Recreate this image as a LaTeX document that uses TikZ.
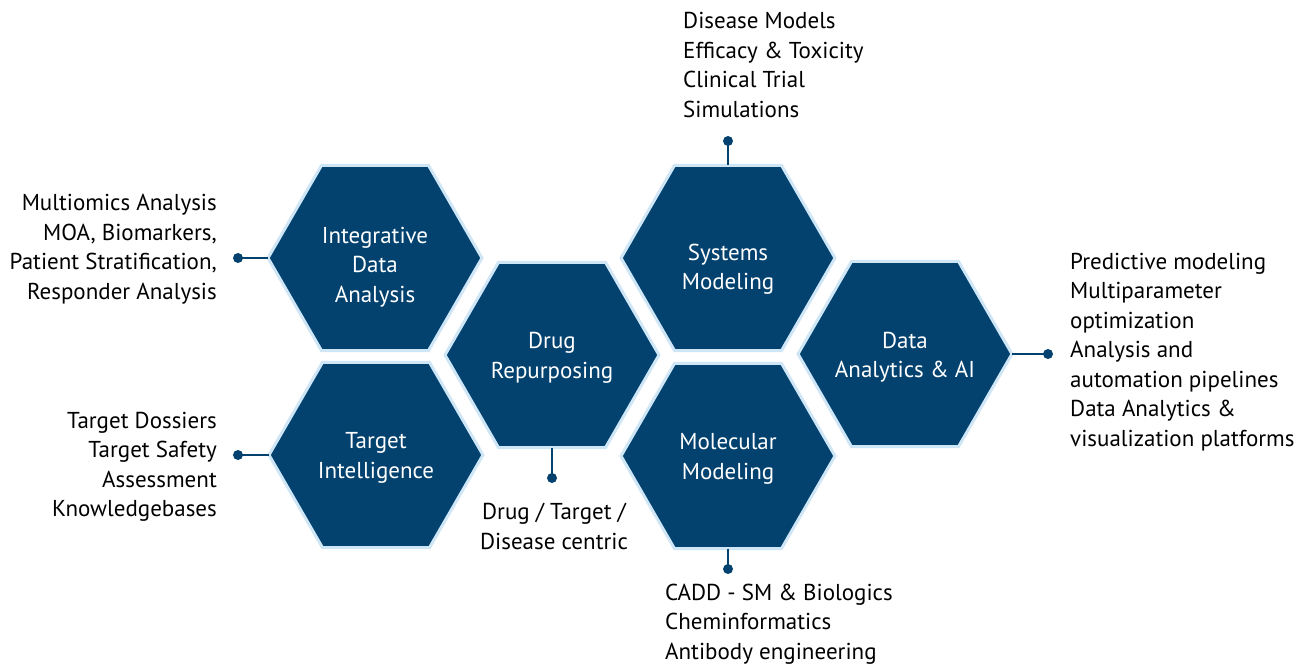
\documentclass[tikz,border=0pt]{standalone}
\usepackage{fontspec}
\setmainfont{PT Sans}
\usetikzlibrary{shapes.geometric,positioning}

\definecolor{hexblue}{HTML}{03426F}
\definecolor{hexrim}{HTML}{CFE6F7}

\tikzset{
  hexcell/.style={regular polygon, regular polygon sides=6,
    minimum size=214pt, inner sep=0pt, outer sep=0pt,
    fill=hexblue, draw=hexrim, line width=3pt},
  hexlabel/.style={inner sep=0pt, text=white, align=center,
    font=\fontsize{23}{29.5}\selectfont},
  info/.style={inner sep=0pt, font=\fontsize{23}{29.5}\selectfont},
  link/.style={hexblue, line width=1.6pt},
  pin/.style={fill=hexblue}
}

\begin{document}
\begin{tikzpicture}[x=1pt,y=1pt]
        \useasboundingbox (0,0) rectangle (1297,665);
        % honeycomb
        \node[hexcell] (ida) at (375,407) {};
        \node[hexcell] (ti) at (376,210) {};
        \node[hexcell] (dr) at (552,310) {};
        \node[hexcell] (sm) at (728,407) {};
        \node[hexcell] (mm) at (728,209) {};
        \node[hexcell] (da) at (905,311) {};
        \node[hexlabel] (idalabel) at ([yshift=-9pt]ida.center) {Integrative\\Data\\Analysis};
        \node[hexlabel] (tilabel) at ([yshift=-3pt]ti.center) {Target\\Intelligence};
        \node[hexlabel] (drlabel) at ([yshift=-3pt]dr.center) {Drug\\Repurposing};
        \node[hexlabel] (smlabel) at ([yshift=-11pt]sm.center) {Systems\\Modeling};
        \node[hexlabel] (mmlabel) at ([yshift=-3pt]mm.center) {Molecular\\Modeling};
        \node[hexlabel] (dalabel) at ([yshift=-3pt]da.center) {Data\\Analytics \& AI};
        % pins
        \coordinate (idadot) at (238,407);
        \coordinate (tidot) at (238,210);
        \coordinate (drdot) at (552,187);
        \coordinate (smdot) at (728,524);
        \coordinate (mmdot) at (728,96);
        \coordinate (dadot) at (1048,311);
        \draw[link] (ida.west) -- (idadot);
        \draw[link] (ti.west) -- (tidot);
        \draw[link] (dr.south) -- (drdot);
        \draw[link] (sm.north) -- (smdot);
        \draw[link] (mm.south) -- (mmdot);
        \draw[link] (da.east) -- (dadot);
        \foreach \p in {idadot,tidot,drdot,smdot,mmdot,dadot}
            \fill[pin] (\p) circle (5pt);
        % texts
        \node[info, align=right, anchor=east] (idatxt) at (217,416)
            {Multiomics Analysis\\MOA, Biomarkers,\\Patient Stratification,\\Responder Analysis};
        \node[info, align=right, anchor=east] (titxt) at (217,198)
            {Target Dossiers\\Target Safety\\Assessment\\Knowledgebases};
        \node[info, align=center, anchor=north] (drtxt) at (554,162)
            {Drug / Target /\\Disease centric};
        \node[info, align=left, anchor=west] (smtxt) at (683,600)
            {Disease Models\\Efficacy \& Toxicity\\Clinical Trial\\Simulations};
        \node[info, align=left, anchor=west] (mmtxt) at (665,41)
            {CADD - SM \& Biologics\\Cheminformatics\\Antibody engineering};
        \node[info, align=left, anchor=west] (datxt) at (1070,313)
            {Predictive modeling\\Multiparameter\\optimization\\Analysis and\\automation pipelines\\Data Analytics \&\\visualization platforms};
    \end{tikzpicture}
\end{document}
